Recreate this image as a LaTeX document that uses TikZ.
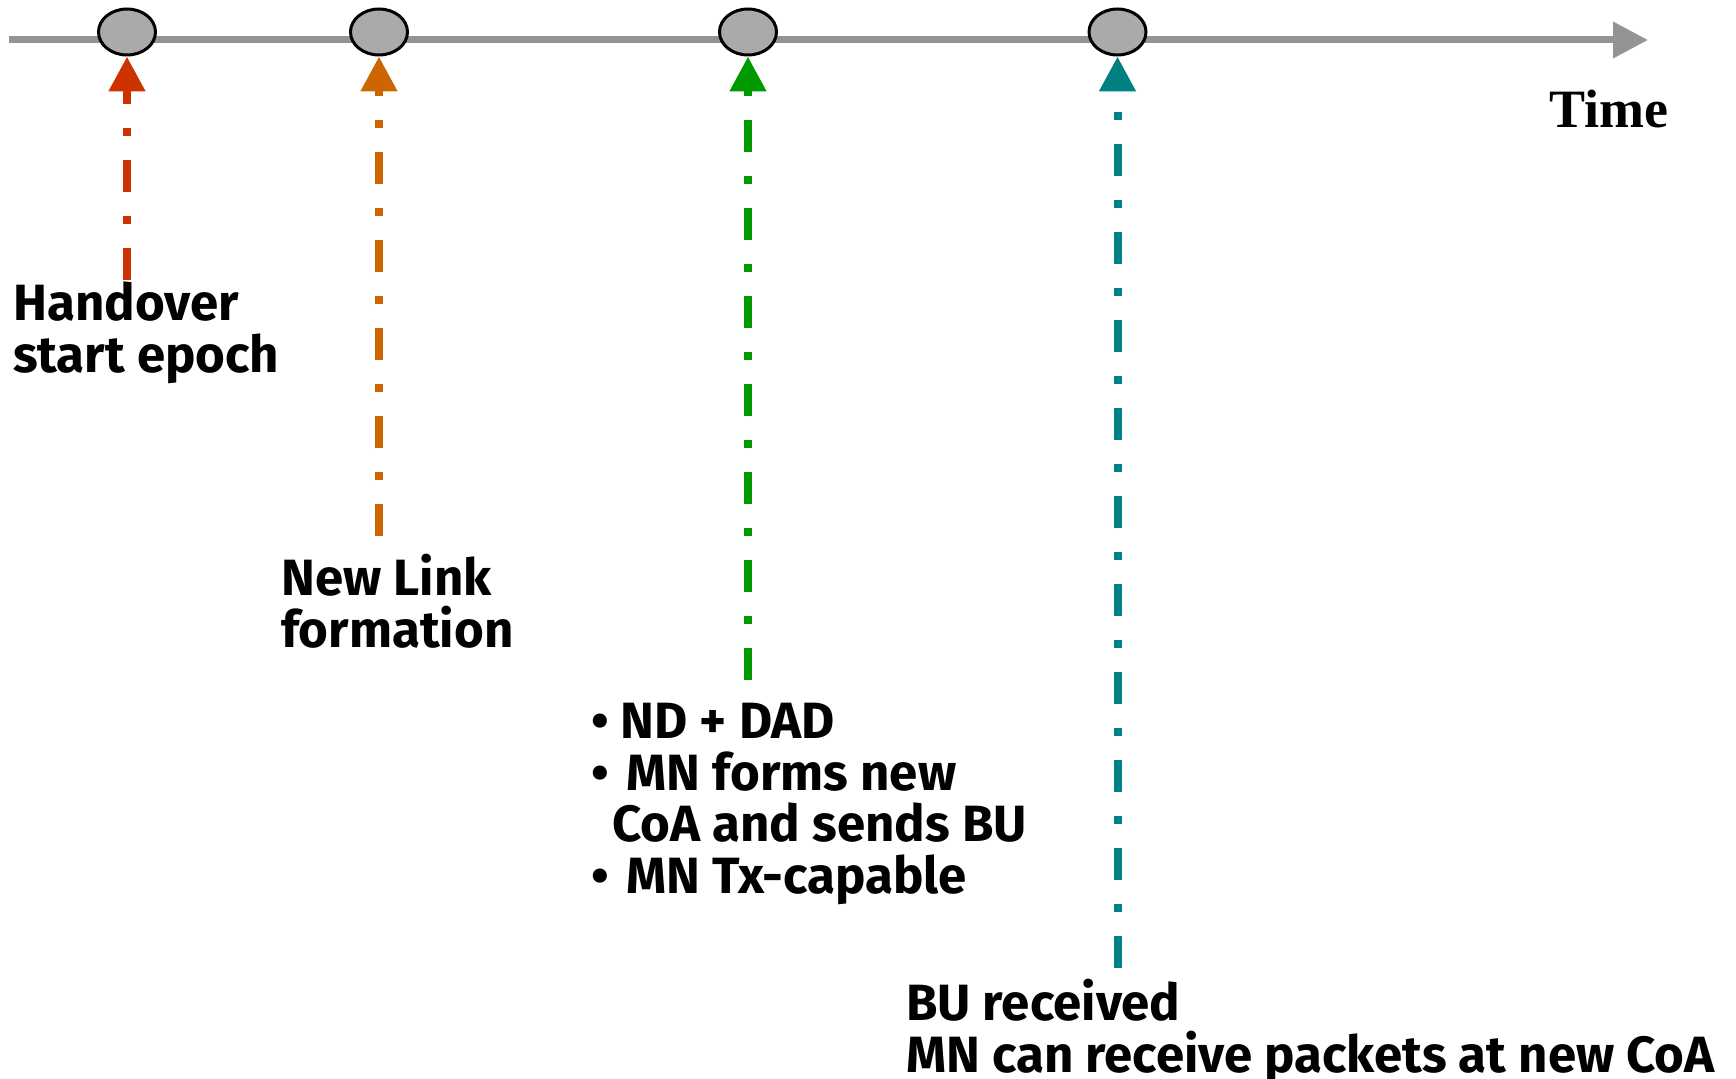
\documentclass[tikz,border=0pt]{standalone}
\usepackage{fontspec}
\setmainfont{Fira Sans}
\newfontfamily\timesfont{Liberation Serif}
\usetikzlibrary{arrows.meta,shapes.geometric}
\definecolor{cred}{RGB}{204,51,0}
\definecolor{corange}{RGB}{204,102,0}
\definecolor{cgreen}{RGB}{0,153,0}
\definecolor{cteal}{RGB}{0,128,128}
\definecolor{evgray}{RGB}{170,170,170}
\definecolor{linegray}{RGB}{148,148,148}
\begin{document}
\begin{tikzpicture}[x=1pt,y=-1pt,
  evt/.style={ellipse, draw=black, line width=3pt, fill=evgray,
    minimum width=57pt, minimum height=46pt, inner sep=0pt},
  timeline/.style={draw=linegray, line width=7pt,
    -{Triangle[length=35pt,width=35pt]}},
  vline/.style={line width=8pt, dash pattern=on 32pt off 24pt on 8pt off 24pt,
    -{Triangle[length=35pt,width=35pt]}},
  lbl/.style={anchor=base west, align=left, inner sep=0pt,
    font={\fontsize{51}{51.5}\selectfont\bfseries}},
]
\useasboundingbox (0,0) rectangle (1736,1078);

% timeline
\coordinate (tl0) at (9,40);
\coordinate (tl1) at (1648,40);
\draw[timeline] (tl0) -- (tl1);

% events
\node[evt] (e1) at (127,32) {};
\node[evt] (e2) at (379,32) {};
\node[evt] (e3) at (748,32) {};
\node[evt] (e4) at (1117.5,32) {};

% bottoms of the connectors
\coordinate (b1) at (127,280);
\coordinate (b2) at (379,536);
\coordinate (b3) at (748,680);
\coordinate (b4) at (1117.5,968);

\draw[vline, cred] (b1) -- (e1.south);
\draw[vline, corange] (b2) -- (e2.south);
\draw[vline, cgreen] (b3) -- (e3.south);
\draw[vline, cteal] (b4) -- (e4.south);

% labels (anchored at the baseline of their last line)
\node[anchor=base west, inner sep=0pt, font={\timesfont\fontsize{54}{54}\selectfont\bfseries}] (time) at (1549,128) {Time};

\node[lbl] (t1) at (13,372) {Handover\\start epoch};
\node[lbl] (t2) at (281,647) {New Link\\formation};
\node[lbl] (t3) at (591,893) {•\hspace{12pt}ND + DAD\\•\hspace{18pt}MN forms new\\\hspace*{21pt}CoA and sends BU\\•\hspace{18pt}MN Tx-capable};
\node[lbl] (t4) at (906,1072) {BU received\\MN can receive packets at new CoA};
\end{tikzpicture}
\end{document}
